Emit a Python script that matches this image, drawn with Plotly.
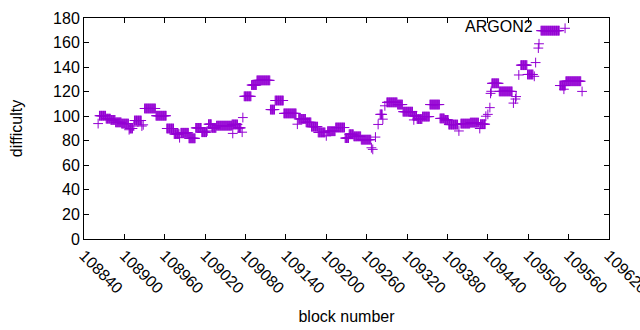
import plotly.graph_objects as go

# Runs of blocks sharing (about) the same difficulty
run_start = [108863, 108873, 108880, 108887, 108896, 108908, 108915, 108930, 108947, 108963,
             108974, 108984, 108996, 109006, 109015, 109025, 109030, 109037, 109060, 109069,
             109078, 109089, 109097, 109117, 109124, 109137, 109159, 109170, 109178, 109188,
             109202, 109214, 109228, 109234, 109241, 109252, 109280, 109290, 109306, 109314,
             109329, 109335, 109343, 109354, 109369, 109376, 109382, 109400, 109414, 109429,
             109446, 109457, 109489, 109499, 109519, 109547, 109556]
run_end = [108872, 108879, 108886, 108895, 108906, 108912, 108925, 108946, 108962, 108973,
           108981, 108995, 109005, 109014, 109022, 109029, 109036, 109059, 109068, 109073,
           109088, 109096, 109116, 109123, 109136, 109155, 109169, 109177, 109187, 109198,
           109213, 109227, 109233, 109240, 109251, 109266, 109283, 109305, 109313, 109328,
           109334, 109342, 109353, 109368, 109375, 109381, 109395, 109413, 109426, 109436,
           109456, 109476, 109498, 109507, 109546, 109555, 109578]
run_value = [100.4, 98, 97, 95, 94, 90, 96.5, 106.3, 100.4, 90,
             85.5, 86.5, 82, 90.5, 87, 93.5, 90.5, 92.3, 93.3, 90.5,
             116.2, 125.4, 129.2, 105.4, 112.8, 102.3, 97.8, 95, 91.5, 86.8,
             87.8, 90.8, 82.2, 85.3, 83.6, 80.9, 101.5, 111.3, 109.5, 103.7,
             100.3, 97.7, 99.7, 109.5, 98.2, 97, 93.2, 94, 94.8, 93.5,
             126.8, 120.2, 141.6, 134, 169.7, 125, 128.5]

# Isolated blocks
single_block = [108861, 108907, 108914, 108926, 108928, 108982, 109023, 109061, 109075, 109076,
                109157, 109200, 109267, 109269, 109273, 109277, 109284, 109287, 109330, 109397,
                109428, 109437, 109440, 109443, 109444, 109445, 109478, 109481, 109482, 109486,
                109509, 109511, 109515, 109516, 109553, 109580]
single_value = [94, 89, 92, 92, 93, 82.5, 88, 86, 87, 98.9,
                93.5, 84, 74.3, 73, 83, 93.3, 97.6, 108.5, 97, 88,
                90, 100, 101.5, 107, 118.6, 120.3, 110.7, 114, 116, 133.6,
                132.5, 143.7, 155.5, 159, 122, 120.2]

x_ticks = list(range(108840, 109621, 60))
y_ticks = list(range(0, 181, 20))

blocks, difficulty = [], []
for s, e, v in zip(run_start, run_end, run_value):
    for b in range(s, e + 1):
        blocks.append(b)
        difficulty.append(v)
blocks += single_block
difficulty += single_value
pairs = sorted(zip(blocks, difficulty))
blocks = [p[0] for p in pairs]
difficulty = [p[1] for p in pairs]

PURPLE = "#9400D3"
FONT = "Liberation Sans, Arial, sans-serif"

fig = go.Figure()
fig.add_trace(go.Scatter(
    x=blocks, y=difficulty, mode="markers", name=" ",
    marker=dict(symbol="cross-thin-open", size=7, color=PURPLE,
                line=dict(color=PURPLE, width=1)),
    showlegend=True, cliponaxis=True,
))

axis_common = dict(showline=True, linecolor="black", linewidth=1, mirror="ticks",
                   ticks="inside", ticklen=5, tickcolor="black", tickwidth=1,
                   showgrid=False, zeroline=False, automargin=False,
                   ticklabeloverflow="allow",
                   tickfont=dict(family=FONT, size=16, color="black"))

fig.update_layout(
    width=640, height=330,
    margin=dict(l=84, r=31, t=18, b=91, autoexpand=False),
    paper_bgcolor="white", plot_bgcolor="white",
    font=dict(family=FONT, size=16, color="black"),
    xaxis=dict(range=[108840, 109620], tickvals=x_ticks, ticktext=[str(v) for v in x_ticks],
               tickangle=45,
               title=dict(text="block number", font=dict(family=FONT, size=16), standoff=14),
               **axis_common),
    yaxis=dict(range=[0, 180], tickvals=y_ticks,
               title=dict(text="difficulty", font=dict(family=FONT, size=16), standoff=26),
               **axis_common),
    legend=dict(x=0.722, y=1.03, xanchor="left", yanchor="top",
                bgcolor="rgba(0,0,0,0)", borderwidth=0,
                title=dict(text="ARGON2&nbsp;", side="left", font=dict(family=FONT, size=16)),
                itemwidth=30),
    showlegend=True,
)

fig.write_html("out.html", config={"displayModeBar": False},
               post_script="document.body.style.margin='0';")
